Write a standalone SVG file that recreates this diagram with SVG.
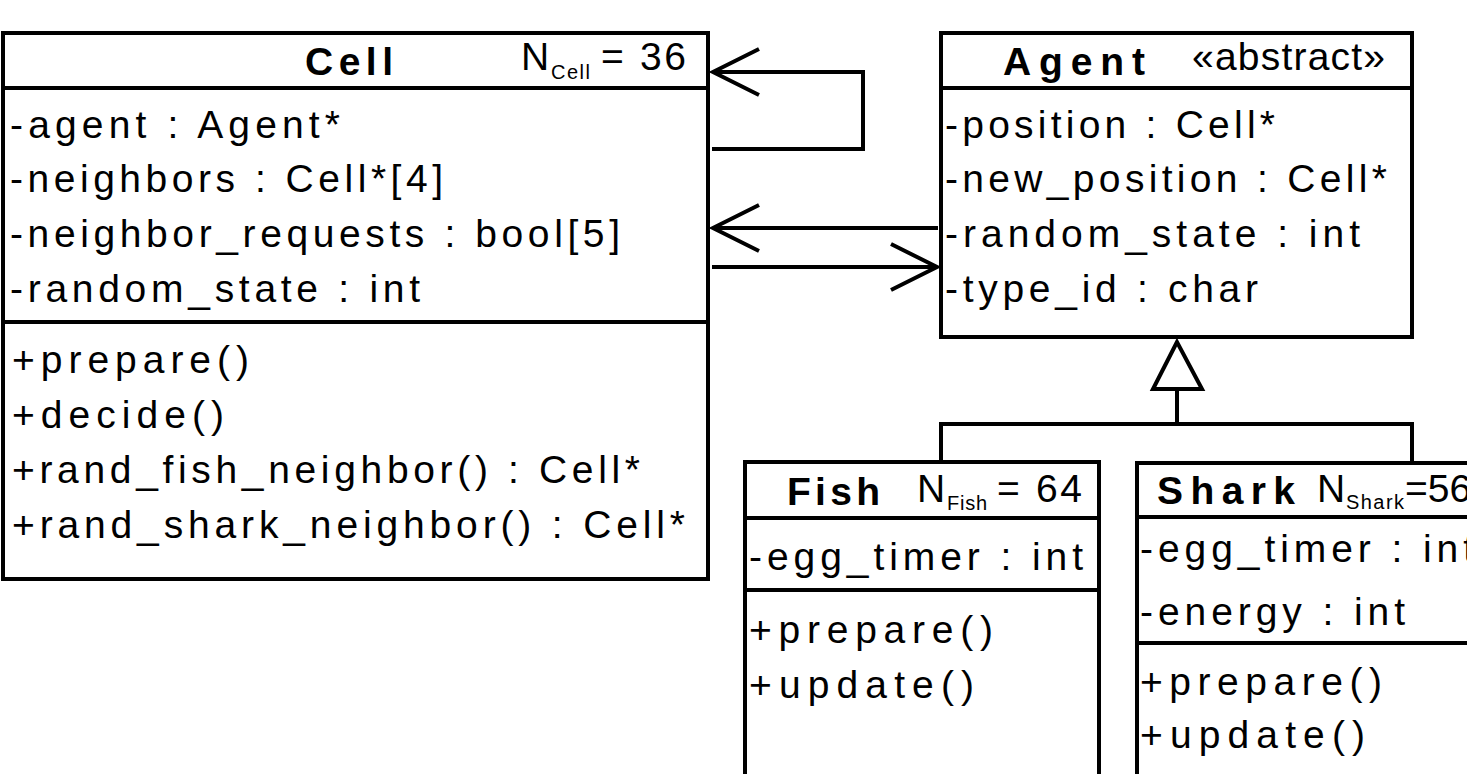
<svg xmlns="http://www.w3.org/2000/svg" width="1467" height="774" viewBox="0 0 1467 774">
<style>
.box{fill:#fff;stroke:#000;stroke-width:4}
.ln{fill:none;stroke:#000;stroke-width:4}
.t{font-family:"Liberation Sans",Arial,sans-serif;font-size:39px;fill:#000}
.b{font-family:"Liberation Sans",Arial,sans-serif;font-size:39px;font-weight:bold;fill:#000}
.s{font-family:"Liberation Sans",Arial,sans-serif;font-size:20px;fill:#000}
</style>
<defs>
<marker id="open" markerUnits="userSpaceOnUse" markerWidth="60" markerHeight="60" refX="0" refY="0" viewBox="-50 -30 60 60" orient="auto" overflow="visible">
<path d="M-46,-23 L0,0 L-46,23" fill="none" stroke="#000" stroke-width="4"/>
</marker>
</defs>
<g id="connectors">
<path class="ln" d="M712,149 H863 V72 H713" marker-end="url(#open)"/>
<path class="ln" d="M938,228 H713" marker-end="url(#open)"/>
<path class="ln" d="M712,267 H937" marker-end="url(#open)"/>
<path class="ln" d="M1177,389 V424 M941,462 V424 H1412 V463"/>
<polygon points="1177,342 1153,389 1202,389" fill="#fff" stroke="#000" stroke-width="4" stroke-linejoin="miter"/>
</g>
<g id="Cell">
<rect class="box" x="3" y="33" width="705" height="546"/>
<line class="ln" x1="3" y1="88" x2="708" y2="88"/>
<line class="ln" x1="3" y1="322" x2="708" y2="322"/>
<text class="b" x="305" y="75" textLength="88">Cell</text>
<text class="t" x="521" y="70">N</text>
<text class="s" x="551" y="79" textLength="39">Cell</text>
<text class="t" x="601" y="70" textLength="85">= 36</text>
<text class="t" x="10" y="138" textLength="330">-agent : Agent*</text>
<text class="t" x="10" y="192" textLength="433">-neighbors : Cell*[4]</text>
<text class="t" x="10" y="247" textLength="610">-neighbor_requests : bool[5]</text>
<text class="t" x="10" y="302" textLength="410">-random_state : int</text>
<text class="t" x="12" y="373" textLength="237">+prepare()</text>
<text class="t" x="12" y="428" textLength="212">+decide()</text>
<text class="t" x="12" y="483" textLength="628">+rand_fish_neighbor() : Cell*</text>
<text class="t" x="12" y="538" textLength="673">+rand_shark_neighbor() : Cell*</text>
</g>
<g id="Agent">
<rect class="box" x="941" y="33" width="471" height="304"/>
<line class="ln" x1="941" y1="88" x2="1412" y2="88"/>
<text class="b" x="1003" y="75" textLength="142">Agent</text>
<text class="t" x="1192" y="70" textLength="193">«abstract»</text>
<text class="t" x="945" y="138" textLength="330">-position : Cell*</text>
<text class="t" x="945" y="192" textLength="442">-new_position : Cell*</text>
<text class="t" x="945" y="247" textLength="415">-random_state : int</text>
<text class="t" x="945" y="302" textLength="313">-type_id : char</text>
</g>
<g id="Fish">
<rect class="box" x="745" y="462" width="354" height="340"/>
<line class="ln" x1="745" y1="518" x2="1099" y2="518"/>
<line class="ln" x1="745" y1="590" x2="1099" y2="590"/>
<text class="b" x="787" y="505" textLength="93">Fish</text>
<text class="t" x="917" y="502">N</text>
<text class="s" x="947" y="510" textLength="40">Fish</text>
<text class="t" x="997" y="502" textLength="85">= 64</text>
<text class="t" x="749" y="570" textLength="334">-egg_timer : int</text>
<text class="t" x="749" y="643" textLength="244">+prepare()</text>
<text class="t" x="749" y="698" textLength="225">+update()</text>
</g>
<g id="Shark">
<rect class="box" x="1137" y="463" width="360" height="340"/>
<line class="ln" x1="1137" y1="517" x2="1497" y2="517"/>
<line class="ln" x1="1137" y1="643" x2="1497" y2="643"/>
<text class="b" x="1157" y="504" textLength="138">Shark</text>
<text class="t" x="1317" y="502">N</text>
<text class="s" x="1346" y="509" textLength="58">Shark</text>
<text class="t" x="1405" y="502">=56</text>
<text class="t" x="1140" y="562" textLength="334">-egg_timer : int</text>
<text class="t" x="1140" y="625" textLength="265">-energy : int</text>
<text class="t" x="1140" y="695" textLength="242">+prepare()</text>
<text class="t" x="1140" y="748" textLength="225">+update()</text>
</g>
</svg>
